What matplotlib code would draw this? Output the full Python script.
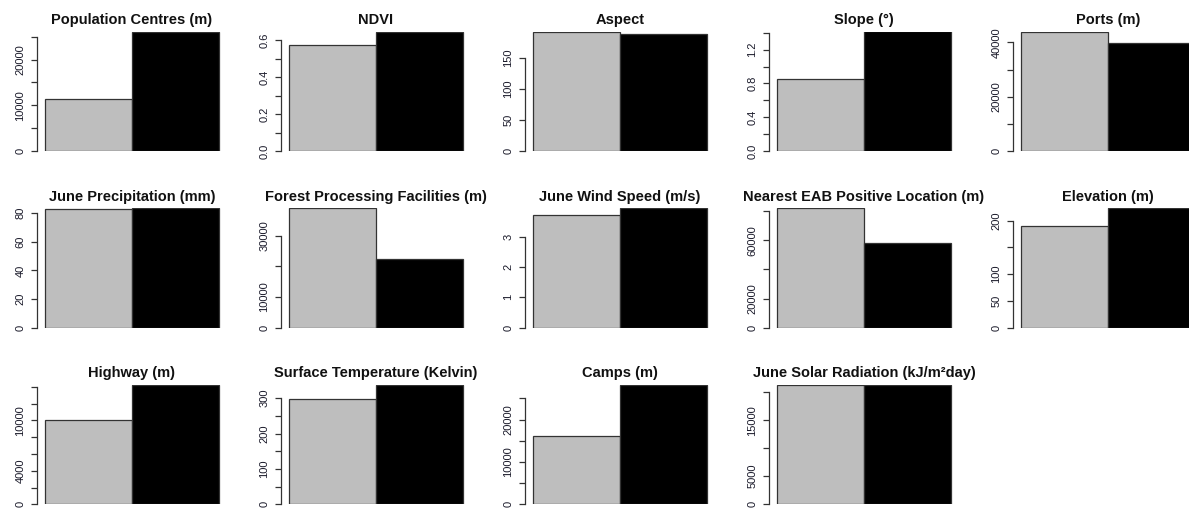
import numpy as np
import matplotlib
matplotlib.use('Agg')
import matplotlib.pyplot as plt

plt.rcParams['font.family'] = ['Liberation Sans', 'DejaVu Sans']

# panel titles, one per variable
titles = [
    'Population Centres (m)', 'NDVI', 'Aspect', 'Slope (°)', 'Ports (m)',
    'June Precipitation (mm)', 'Forest Processing Facilities (m)', 'June Wind Speed (m/s)',
    'Nearest EAB Positive Location (m)', 'Elevation (m)',
    'Highway (m)', 'Surface Temperature (Kelvin)', 'Camps (m)', 'June Solar Radiation (kJ/m²day)',
]

# mean value of each variable for the two groups (grey bar, black bar)
group_grey = [11400, 0.574, 191.8, 0.847, 44000,
              82.8, 39000, 3.72, 82000, 190.7,
              10100, 299, 16000, 21200]
group_black = [26150, 0.647, 187.6, 1.415, 39600,
               83.5, 22400, 3.94, 58200, 223,
               14250, 338, 28200, 21300]

# y tick spacing and the labels R managed to fit ('' = tick without label)
tick_steps = [5000, 0.1, 50, 0.2, 10000,
              20, 10000, 1, 20000, 50,
              2000, 50, 5000, 5000]
tick_labels = [
    ['0', '', '10000', '', '20000', ''],
    ['0.0', '', '0.2', '', '0.4', '', '0.6'],
    ['0', '50', '100', '150'],
    ['0.0', '', '0.4', '', '0.8', '', '1.2', ''],
    ['0', '', '20000', '', '40000'],
    ['0', '20', '40', '60', '80'],
    ['0', '10000', '', '30000'],
    ['0', '1', '2', '3'],
    ['0', '20000', '', '60000', ''],
    ['0', '50', '100', '', '200'],
    ['0', '', '4000', '', '', '10000', '', ''],
    ['0', '', '100', '', '200', '', '300'],
    ['0', '', '10000', '', '20000', ''],
    ['0', '5000', '', '15000', ''],
]

W, H = 1189, 508
fig = plt.figure(figsize=(W / 100, H / 100), dpi=100)

col_left = 38      # px, left edge of first plot region
col_step = 244     # px between columns
row_bottom = [151, 327.7, 504.3]   # px from top
ax_w, ax_h = 188, 119.5

for i, title in enumerate(titles):
    r, c = divmod(i, 5)
    left = (col_left + c * col_step) / W
    bottom = 1 - row_bottom[r] / H
    ax = fig.add_axes([left, bottom, ax_w / W, ax_h / H])

    vals = [group_grey[i], group_black[i]]
    ax.bar([0, 1], vals, width=1, align='edge', color=['#bebebe', 'black'],
           edgecolor='#333333', linewidth=0.9)
    ax.set_xlim(-0.08, 2.08)
    ax.set_ylim(0, max(vals))

    ticks = tick_steps[i] * np.arange(len(tick_labels[i]))
    ax.set_yticks(ticks)
    ax.tick_params(axis='y', length=4.5, width=0.9, color='#333333', labelleft=False)
    ax.set_xticks([])

    # vertical labels centred on their ticks, as R draws them
    for t, lab in zip(ticks, tick_labels[i]):
        if lab:
            ax.annotate(lab, xy=(0, t), xycoords=ax.get_yaxis_transform(),
                        xytext=(-9, 0), textcoords='offset points',
                        rotation=90, rotation_mode='default', ha='right', va='center',
                        fontsize=8, color='#1a1a2a', annotation_clip=False)

    for side in ['top', 'right', 'bottom']:
        ax.spines[side].set_visible(False)
    ax.spines['left'].set_bounds(0, ticks[-1])
    ax.spines['left'].set_position(('outward', 1))
    ax.spines['left'].set_color('#333333')
    ax.spines['left'].set_linewidth(0.9)

    ax.set_title(title, fontsize=10.5, fontweight='bold', pad=5.5, color='#111111')

fig.savefig('out.png', dpi=100)
